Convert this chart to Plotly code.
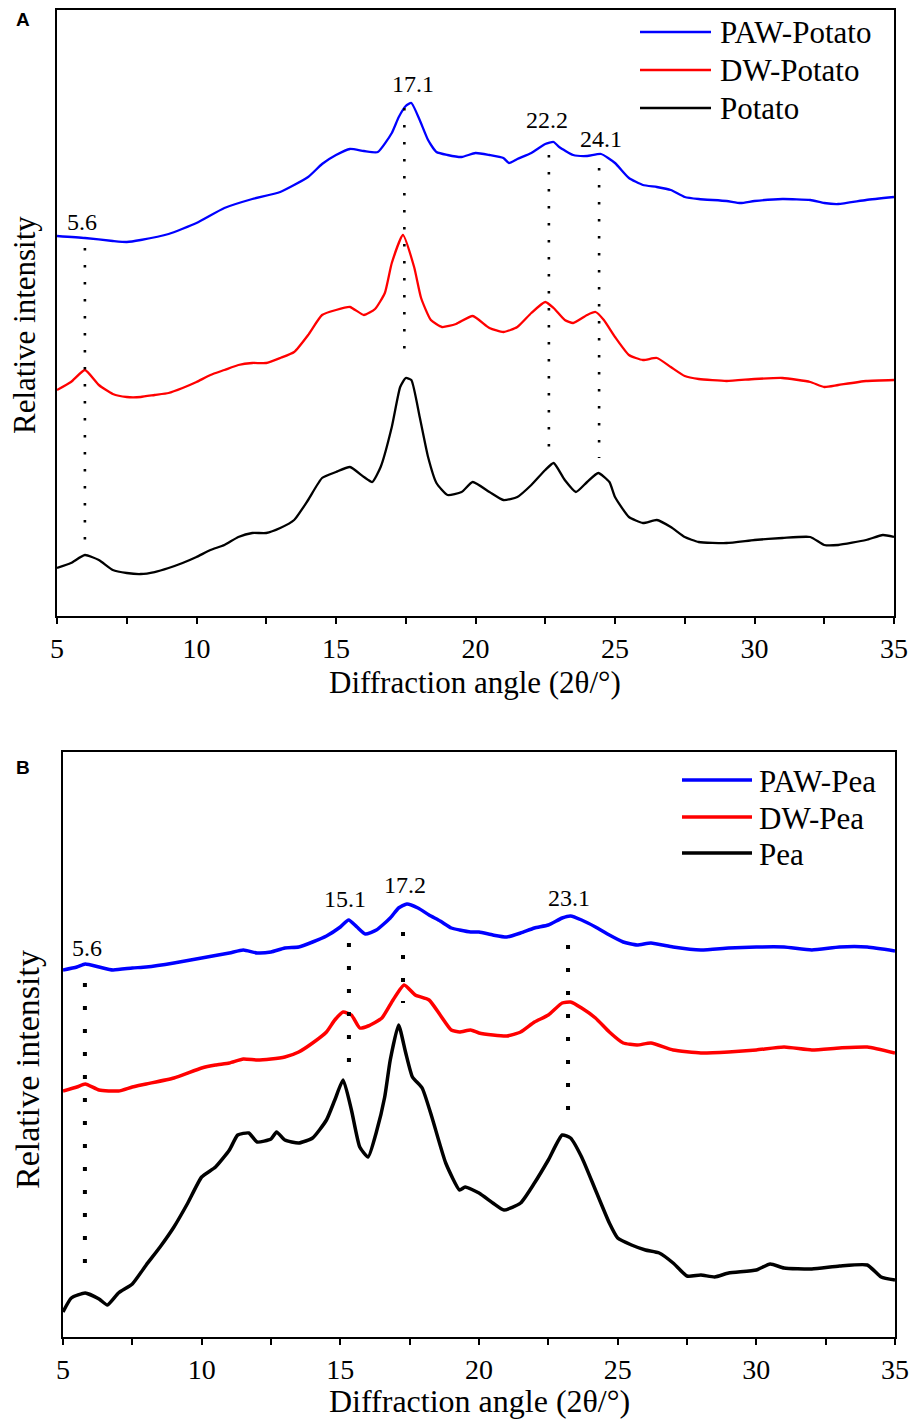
import plotly.graph_objects as go

W, H = 912, 1421

# ---------------- Panel A data (relative intensity, arbitrary units) ----------------
a_paw_x = [5, 6, 7, 7.5, 8, 9, 10, 11, 12, 13, 14, 14.5, 15, 15.5, 16, 16.5, 17, 17.25, 17.5, 17.7,
           18, 18.3, 18.6, 19, 19.5, 20, 20.5, 21, 21.2, 21.5, 22, 22.5, 22.8, 23, 23.5, 24, 24.5, 25, 25.5, 26,
           26.5, 27, 27.5, 28, 29, 29.5, 30, 31, 32, 32.5, 33, 34, 35]
a_paw_y = [380, 378, 375, 374, 376, 382, 393, 408, 417, 424, 439, 452, 461, 467, 465, 464, 483, 499, 510, 513,
           496, 476, 464, 461, 459, 463, 461, 458, 453, 457, 463, 472, 474, 469, 461, 460, 462, 453, 438, 431,
           429, 426, 419, 417, 415, 413, 415, 417, 416, 413, 412, 416, 419]

a_dw_x = [5, 5.5, 6, 6.5, 7, 7.5, 8, 8.5, 9, 9.5, 10, 10.5, 11, 11.5, 12, 12.5, 13, 13.5, 14, 14.5,
          15, 15.5, 16, 16.4, 16.75, 17, 17.4, 17.8, 18.05, 18.4, 18.8, 19.3, 19.9, 20.5, 21, 21.5, 22, 22.5, 22.8, 23.2,
          23.5, 24, 24.3, 24.6, 25, 25.5, 26, 26.5, 27, 27.5, 28, 29, 30, 31, 32, 32.5, 33, 34, 35]
a_dw_y = [226, 234, 246, 231, 222, 219, 219, 221, 223, 228, 234, 241, 246, 251, 253, 253, 258, 264, 281, 301,
          306, 309, 301, 307, 323, 353, 381, 349, 318, 296, 289, 292, 300, 288, 284, 289, 303, 314, 308, 296,
          293, 301, 304, 296, 279, 261, 256, 258, 249, 240, 237, 235, 237, 238, 234, 229, 231, 235, 236]

a_nat_x = [5, 5.5, 6, 6.5, 7, 7.5, 8, 8.5, 9, 9.5, 10, 10.5, 11, 11.5, 12, 12.5, 13, 13.5, 14, 14.5,
           15, 15.5, 16, 16.3, 16.6, 17, 17.3, 17.5, 17.7, 18, 18.3, 18.6, 19, 19.5, 19.9, 20.5, 21, 21.5, 22, 22.5,
           22.8, 23.2, 23.6, 24, 24.4, 24.8, 25, 25.5, 26, 26.5, 27, 27.5, 28, 29, 30, 31, 32, 32.5, 33, 34, 34.6, 35]
a_nat_y = [48, 53, 61, 56, 46, 43, 42, 44, 48, 53, 59, 66, 71, 79, 83, 83, 88, 96, 116, 138,
           144, 149, 139, 134, 149, 189, 229, 238, 236, 199, 159, 133, 121, 124, 134, 124, 116, 119, 131, 146,
           153, 136, 124, 134, 143, 134, 119, 99, 93, 96, 89, 79, 74, 73, 76, 78, 79, 71, 71, 76, 81, 79]

a_names = ["PAW-Potato", "DW-Potato", "Potato"]
a_peak_x = [6.0, 17.45, 22.63, 24.43]
a_peak_y0 = [76, 254, 169, 158]
a_peak_y1 = [368, 508, 461, 448]
a_label_text = ["5.6", "17.1", "22.2", "24.1"]
a_label_x = [5.9, 17.76, 22.56, 24.5]
a_label_y = [394, 532, 496, 477]

# ---------------- Panel B data ----------------
b_paw_x = [5, 5.5, 5.8, 6.3, 6.8, 7.5, 8, 9, 10, 11, 11.5, 12, 12.5, 13, 13.5, 14, 14.5, 15, 15.3, 15.6,
           15.9, 16.3, 16.8, 17.1, 17.4, 17.8, 18.2, 18.6, 19, 19.3, 19.7, 20, 20.5, 21, 21.5, 22, 22.5, 23, 23.3, 23.7,
           24.2, 24.7, 25.2, 25.7, 26.2, 27, 28, 29, 30, 31, 32, 33, 34, 35]
b_paw_y = [367, 370, 373, 370, 367, 369, 370, 374, 379, 384, 387, 384, 385, 389, 390, 395, 401, 410, 417, 410,
           403, 407, 419, 429, 433, 429, 422, 416, 409, 407, 405, 405, 402, 400, 404, 409, 412, 419, 421, 417,
           410, 402, 395, 392, 394, 390, 387, 389, 390, 390, 387, 390, 390, 386]

b_dw_x = [5, 5.5, 5.8, 6.3, 7, 7.5, 8, 9, 10, 10.5, 11, 11.5, 12, 12.5, 13, 13.5, 14, 14.5, 14.8, 15.1,
          15.4, 15.7, 16, 16.5, 16.9, 17.3, 17.7, 18.2, 18.6, 19, 19.3, 19.7, 20, 20.5, 21, 21.5, 22, 22.5, 23, 23.3,
          23.7, 24.2, 24.7, 25.2, 25.7, 26.2, 27, 28, 29, 30, 31, 32, 33, 34, 35]
b_dw_y = [246, 250, 253, 247, 246, 250, 253, 259, 269, 272, 274, 278, 277, 278, 280, 285, 294, 305, 317, 325,
          322, 309, 311, 319, 337, 352, 342, 337, 322, 307, 305, 307, 304, 302, 301, 305, 315, 322, 334, 335,
          329, 319, 305, 294, 292, 294, 287, 284, 285, 287, 290, 287, 289, 290, 284]

b_nat_x = [5, 5.3, 5.8, 6.3, 6.6, 7, 7.5, 8, 8.5, 9, 9.5, 10, 10.5, 11, 11.3, 11.7, 12, 12.5, 12.7, 13,
           13.5, 14, 14.5, 14.8, 15.1, 15.4, 15.7, 16, 16.3, 16.6, 16.8, 17.1, 17.35, 17.6, 17.95, 18.3, 18.8, 19.3, 19.5, 20,
           20.5, 20.9, 21.5, 22, 22.5, 23, 23.3, 23.7, 24.2, 24.7, 25, 25.5, 26, 26.5, 27, 27.5, 28, 28.5, 29, 30,
           30.5, 31, 32, 33, 34, 34.5, 35]
b_nat_y = [25, 39, 44, 38, 32, 44, 53, 72, 90, 110, 134, 160, 170, 187, 202, 204, 195, 198, 205, 197,
           194, 199, 217, 237, 257, 227, 190, 180, 205, 240, 277, 312, 285, 260, 249, 220, 174, 147, 150, 144,
           134, 127, 134, 154, 177, 202, 199, 180, 147, 114, 99, 92, 87, 84, 74, 61, 62, 60, 64, 67,
           73, 69, 68, 71, 72, 60, 57]

b_names = ["PAW-Pea", "DW-Pea", "Pea"]
b_peak_x = [5.79, 15.31, 17.26, 23.21]
b_peak_y0 = [65, 274, 334, 225]
b_peak_y1 = [354, 394, 405, 392]
b_label_text = ["5.6", "15.1", "17.2", "23.1"]
b_label_x = [5.87, 15.17, 17.33, 23.25]
b_label_y = [389, 438, 452, 439]

x_ticks = [5, 10, 15, 20, 25, 30, 35]
colors = ["#0000FF", "#FF0000", "#000000"]

SERIF = "Liberation Serif, Times New Roman, serif"
SANS = "Liberation Sans, Arial, sans-serif"


def px_x(p):
    return p / W


def px_y(p):
    return 1 - p / H


fig = go.Figure()

for xs, ys, name, c in zip([a_paw_x, a_dw_x, a_nat_x], [a_paw_y, a_dw_y, a_nat_y], a_names, colors):
    fig.add_trace(go.Scatter(x=xs, y=ys, name=name, mode="lines",
                             line=dict(color=c, width=2.3, shape="spline", smoothing=0.5),
                             xaxis="x", yaxis="y", showlegend=False))

for xs, ys, name, c in zip([b_paw_x, b_dw_x, b_nat_x], [b_paw_y, b_dw_y, b_nat_y], b_names, colors):
    fig.add_trace(go.Scatter(x=xs, y=ys, name=name, mode="lines",
                             line=dict(color=c, width=3.5, shape="spline", smoothing=0.5),
                             xaxis="x2", yaxis="y2", showlegend=False))


def guide_xy(px, y0, y1):
    gx, gy = [], []
    for xv, a, b in zip(px, y0, y1):
        gx += [xv, xv, None]
        gy += [b, a, None]
    return gx, gy


gx, gy = guide_xy(a_peak_x, a_peak_y0, a_peak_y1)
fig.add_trace(go.Scatter(x=gx, y=gy, mode="lines", line=dict(color="black", width=2.6, dash="2.6px,14.4px"),
                         xaxis="x", yaxis="y", showlegend=False, hoverinfo="skip"))
gx, gy = guide_xy(b_peak_x, b_peak_y0, b_peak_y1)
fig.add_trace(go.Scatter(x=gx, y=gy, mode="lines", line=dict(color="black", width=4, dash="4px,19px"),
                         xaxis="x2", yaxis="y2", showlegend=False, hoverinfo="skip"))

annotations = []
for t, xv, yv in zip(a_label_text, a_label_x, a_label_y):
    annotations.append(dict(text=t, x=xv, y=yv, xref="x", yref="y", showarrow=False,
                            font=dict(family=SERIF, size=24, color="black"), xanchor="center", yanchor="middle"))
for t, xv, yv in zip(b_label_text, b_label_x, b_label_y):
    annotations.append(dict(text=t, x=xv, y=yv, xref="x2", yref="y2", showarrow=False,
                            font=dict(family=SERIF, size=24, color="black"), xanchor="center", yanchor="middle"))

annotations += [
    dict(text="Diffraction angle (2θ/°)", x=px_x(475), y=px_y(683), xref="paper", yref="paper", showarrow=False,
         font=dict(family=SERIF, size=31, color="black"), xanchor="center", yanchor="middle"),
    dict(text="Diffraction angle (2θ/°)", x=px_x(479), y=px_y(1420), xref="paper", yref="paper", showarrow=False,
         font=dict(family=SERIF, size=32, color="black"), xanchor="center", yanchor="bottom", borderpad=0),
    dict(text="Relative intensity", x=px_x(25), y=px_y(325), xref="paper", yref="paper", showarrow=False,
         textangle=-90, font=dict(family=SERIF, size=31, color="black"), xanchor="center", yanchor="middle"),
    dict(text="Relative intensity", x=px_x(27), y=px_y(1070), xref="paper", yref="paper", showarrow=False,
         textangle=-90, font=dict(family=SERIF, size=34, color="black"), xanchor="center", yanchor="middle"),
    dict(text="<b>A</b>", x=px_x(23), y=px_y(19), xref="paper", yref="paper", showarrow=False,
         font=dict(family=SANS, size=19, color="black"), xanchor="center", yanchor="middle"),
    dict(text="<b>B</b>", x=px_x(23), y=px_y(767), xref="paper", yref="paper", showarrow=False,
         font=dict(family=SANS, size=19, color="black"), xanchor="center", yanchor="middle"),
]

shapes = []
for i, (name, c) in enumerate(zip(a_names, colors)):
    yy = [32, 70, 108][i]
    shapes.append(dict(type="line", xref="paper", yref="paper", x0=px_x(640), x1=px_x(711),
                       y0=px_y(yy), y1=px_y(yy), line=dict(color=c, width=2.3)))
    annotations.append(dict(text=name, x=px_x(718), y=px_y(yy + 1), xref="paper", yref="paper", showarrow=False,
                            font=dict(family=SERIF, size=31, color="black"), xanchor="left", yanchor="middle"))
for i, (name, c) in enumerate(zip(b_names, colors)):
    yy = [780, 817, 853][i]
    shapes.append(dict(type="line", xref="paper", yref="paper", x0=px_x(682), x1=px_x(752),
                       y0=px_y(yy), y1=px_y(yy), line=dict(color=c, width=3.5)))
    annotations.append(dict(text=name, x=px_x(757), y=px_y(yy + 1), xref="paper", yref="paper", showarrow=False,
                            font=dict(family=SERIF, size=31, color="black"), xanchor="left", yanchor="middle"))

xaxis_common = dict(range=[5, 35], tickvals=x_ticks, ticktext=[str(v) for v in x_ticks],
                    ticks="outside", ticklen=6, tickwidth=1.5, tickcolor="black",
                    minor=dict(dtick=2.5, tick0=5, ticks="outside", ticklen=6, tickwidth=1.5, tickcolor="black"),
                    showline=True, linecolor="black", linewidth=1.8, mirror=True,
                    showgrid=False, zeroline=False, automargin=False,
                    tickfont=dict(family=SERIF, size=28, color="black"), ticklabelstandoff=0)
yaxis_common = dict(showticklabels=False, ticks="", showline=True, linecolor="black", linewidth=1.8,
                    mirror=True, showgrid=False, zeroline=False, automargin=False)

fig.update_layout(
    width=W, height=H, autosize=False,
    margin=dict(l=0, r=0, t=0, b=0, pad=0, autoexpand=False),
    paper_bgcolor="white", plot_bgcolor="white",
    xaxis=dict(domain=[px_x(57), px_x(894)], anchor="y", **xaxis_common),
    yaxis=dict(domain=[px_y(616), px_y(10)], range=[0, 606], anchor="x", **yaxis_common),
    xaxis2=dict(domain=[px_x(63), px_x(895)], anchor="y2", **xaxis_common),
    yaxis2=dict(domain=[px_y(1337), px_y(752)], range=[0, 585], anchor="x2", **yaxis_common),
    annotations=annotations,
    shapes=shapes,
    showlegend=False,
)

fig.write_html("out.html", config={"responsive": False})
